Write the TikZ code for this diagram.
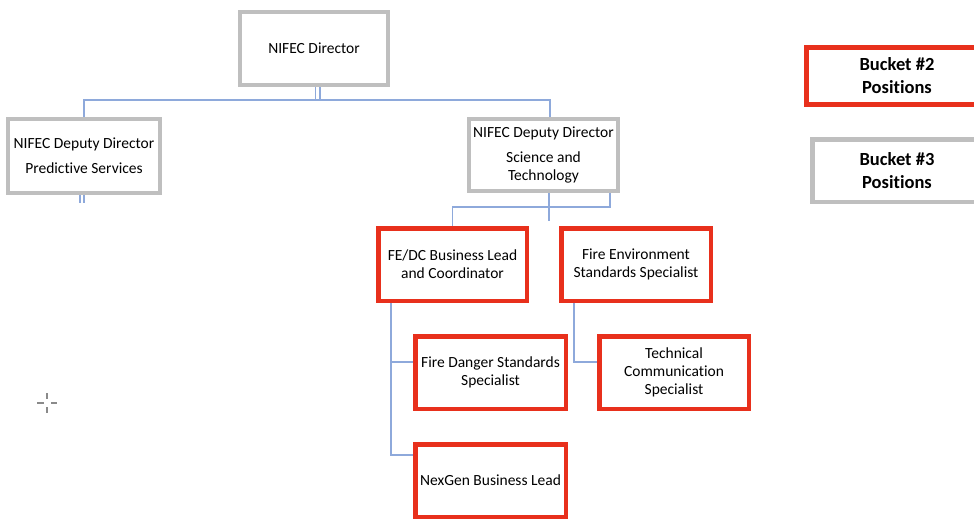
\documentclass[tikz,border=0pt]{standalone}
\usepackage{fontspec}
\setmainfont[Ligatures=NoCommon]{Carlito}
\usepackage{xcolor}
\definecolor{boxGray}{HTML}{BFBFBF}
\definecolor{boxRed}{HTML}{E8301C}
\definecolor{linkBlue}{HTML}{8EA9DB}
\definecolor{cursorGray}{HTML}{8A8A8A}
\tikzset{grayBox/.style={draw=boxGray, line width=4pt, fill=white, align=center,
  inner sep=0pt, font=\fontsize{15.5}{18}\selectfont},
 redBox/.style={grayBox, draw=boxRed, line width=4.5pt},
 legendBox/.style={grayBox, font=\bfseries\fontsize{18.5}{23}\selectfont},
 boxSize/.style 2 args={minimum width=#1pt, minimum height=#2pt},
 link/.style={draw=linkBlue, line width=1.3pt},
 twinLink/.style={link, double=white, double distance=3.4pt},
 }
\usetikzlibrary{backgrounds}

\begin{document}
\begin{tikzpicture}[x=1pt, y=-1pt]
    \useasboundingbox (0,0) rectangle (974,519);
    \node[grayBox, boxSize={148}{73}] (director) at (314,48.5) {NIFEC Director};
    \node[grayBox, boxSize={152}{74}] (predDep) at (84,156) {NIFEC Deputy Director\\[7pt]Predictive Services};
    \node[grayBox, boxSize={149}{72}] (sciDep) at (543.5,155) {NIFEC Deputy Director\\[7pt]Science and\\Technology};
    \node[redBox, boxSize={148.5}{72.5}] (feLead) at (452.5,264.5) {FE/DC Business Lead\\and Coordinator};
    \node[redBox, boxSize={149.5}{72.5}] (envSpec) at (636,264.5) {Fire Environment\\Standards Specialist};
    \node[redBox, boxSize={150.5}{72.5}] (dangerSpec) at (490.5,372.5) {Fire Danger Standards\\Specialist};
    \node[redBox, boxSize={149.5}{72.5}] (techSpec) at (674,372.5) {Technical\\Communication\\Specialist};
    \node[redBox, boxSize={150.5}{72.5}] (nexLead) at (490.5,480.5) {NexGen Business Lead};
    \node[legendBox, draw=boxRed, line width=5pt, boxSize={181}{57}] (bucketTwo) at (897,76) {Bucket \#2\\Positions};
    \node[legendBox, line width=4.5pt, boxSize={169.5}{62.5}] (bucketThree) at (897,170.5) {Bucket \#3\\Positions};
    \coordinate (topBus) at (317.5,100);
    \coordinate (sciBus) at (0,207);
    \coordinate (predStub) at (82,203);
    \coordinate (sciStub) at (549,221);
    \begin{scope}[on background layer]
        \draw[twinLink] ([xshift=3.5pt]director.south) -- ([xshift=3.5pt]director.south |- topBus);
        \draw[link] (predDep.north) |- (topBus) -| ([xshift=6.5pt]sciDep.north);
        \draw[twinLink, double distance=2.7pt] (predStub |- predDep.south) -- (predStub);
        \draw[link] (sciStub |- sciDep.south) -- (sciStub);
        \draw[link] ([xshift=66.5pt]sciDep.south) -- ([xshift=66.5pt]sciDep.south |- sciBus) -| (feLead.north);
        \draw[link] ([xshift=-61.5pt]feLead.south) |- ([yshift=25.5pt]nexLead.west);
        \draw[link] ([xshift=-61.5pt]feLead.south) |- ([yshift=10.5pt]dangerSpec.west);
        \draw[link] ([xshift=-62pt]envSpec.south) |- ([yshift=10.5pt]techSpec.west);
    \end{scope}
    \draw[cursorGray, line width=1.5pt] (37,403) -- (44,403) (51,403) -- (57,403)
        (47,393) -- (47,399) (47,407) -- (47,413);
\end{tikzpicture}
\end{document}
